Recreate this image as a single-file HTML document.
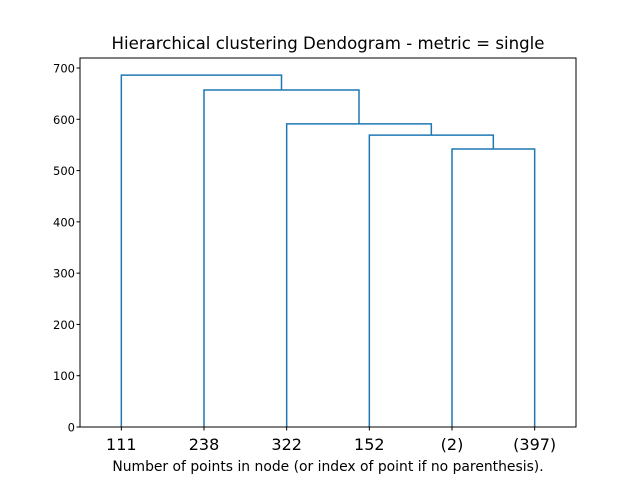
<!DOCTYPE html>
<html><head><meta charset="utf-8"><style>
body{margin:0;background:#fff;}
svg{display:block;font-family:"DejaVu Sans","Liberation Sans",sans-serif;}
</style></head><body>
<svg width="640" height="480" viewBox="0 0 640 480">
<rect x="0" y="0" width="640" height="480" fill="#fff"/>
<g id="plot"></g>
<rect x="80" y="58" width="496" height="369" fill="none" stroke="#000" stroke-width="1"/>
<text x="328" y="49" text-anchor="middle" font-size="16.6">Hierarchical clustering Dendogram - metric = single</text>
<text x="328" y="471" text-anchor="middle" font-size="13.9">Number of points in node (or index of point if no parenthesis).</text>
</svg>
<script>
const leafLabels = ["111","238","322","152","(2)","(397)"];
const mergeLeftX = [45, 35, 25, 15, 5];
const mergeRightX = [55, 50, 42.5, 33.75, 24.375];
const mergeLeftH = [0, 0, 0, 0, 0];
const mergeRightH = [0, 542, 569, 591, 657];
const mergeHeights = [542, 569, 591, 657, 686];
const yTicks = [0,100,200,300,400,500,600,700];

const X0=80, X1=576, Y0=427, Y1=58;
const xScale = u => X0 + u/60*(X1-X0);
const yScale = v => Y0 - v*(Y0-68)/700;
const ns="http://www.w3.org/2000/svg";
const g=document.getElementById('plot');
function mk(t,a){const e=document.createElementNS(ns,t);for(const k in a)e.setAttribute(k,a[k]);g.appendChild(e);return e;}

for(let i=0;i<mergeHeights.length;i++){
  const xl=xScale(mergeLeftX[i]), xr=xScale(mergeRightX[i]);
  const p=mk('polyline',{points:`${xl},${yScale(mergeLeftH[i])} ${xl},${yScale(mergeHeights[i])} ${xr},${yScale(mergeHeights[i])} ${xr},${yScale(mergeRightH[i])}`,fill:'none',stroke:'#1f77b4','stroke-width':1.5});
  
  
}
yTicks.forEach(v=>{
  const y=yScale(v);
  const l=mk('line',{x1:X0-3.5,x2:X0,y1:y,y2:y,stroke:'#000'});
  
  
  const t=mk('text',{x:X0-5,y:y+4.5,'text-anchor':'end','font-size':11.5});
  t.textContent=v;
  
  
});
leafLabels.forEach((s,i)=>{
  const x=xScale(5+10*i);
  const l=mk('line',{x1:x,x2:x,y1:Y0,y2:Y0+3.5,stroke:'#000'});
  
  
  const t=mk('text',{x:x,y:Y0+23,'text-anchor':'middle','font-size':16});
  t.textContent=s;
  
  
});
</script>
</body></html>
